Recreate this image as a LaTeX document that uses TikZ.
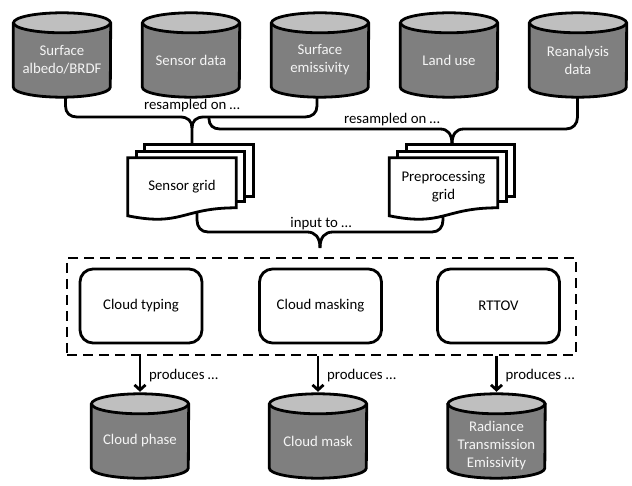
\documentclass[tikz,border=0pt]{standalone}
\usepackage{fontspec}
\setmainfont{Carlito}
\usetikzlibrary{arrows.meta,calc,backgrounds}
\definecolor{cylbody}{RGB}{127,127,127}
\definecolor{cyltop}{RGB}{191,191,191}
\definecolor{cyltext}{RGB}{245,245,245}
\tikzset{
  txt/.style={font=\fontsize{14.8}{18}\selectfont},
  cyl/.style={txt, minimum width=97pt, minimum height=74pt, inner sep=0pt, text=cyltext, align=center},
  cylside/.style={fill=cylbody, draw=black, line width=2.8pt, line join=round},
  cyllid/.style={fill=cyltop, draw=black, line width=2.8pt},
  doc/.style={txt, minimum width=108pt, minimum height=58pt, inner sep=0pt, align=center},
  pagesheet/.style={fill=white, draw=black, line width=2.8pt, line join=miter},
  lbl/.style={txt, inner sep=0pt},
  grp/.style={draw=black, line width=2.8pt, dash pattern=on 10pt off 6pt, minimum width=509pt, minimum height=97pt, inner sep=0pt},
  proc/.style={txt, draw=black, fill=white, line width=2.8pt, rounded corners=13pt, minimum width=122pt, minimum height=74pt, inner sep=0pt},
  conn/.style={draw=black, line width=2.8pt},
  arr/.style={draw=black, line width=2.8pt, -{Straight Barb[length=5pt,width=11pt]}}
}
\newcommand\cylpaint[2][0pt]{%
  \path[cylside] ([yshift=#1]#2.north west) -- ([yshift=10pt+#1]#2.south west) arc[start angle=180,end angle=360,x radius=48.5pt,y radius=10pt] -- ([yshift=#1]#2.north east) -- cycle;
  \path[cyllid] ([yshift=#1]#2.north) ellipse[x radius=48.5pt,y radius=10pt];}
\newcommand\docpaint[1]{%
  \path[pagesheet] ($(#1.north west)+(17,-13)$) rectangle ($(#1.north east)+(17,39)$);
  \path[pagesheet] ($(#1.north west)+(8.5,-6.5)$) rectangle ($(#1.north east)+(8.5,44)$);
  \path[pagesheet] (#1.north west) -- (#1.north east) -- ($(#1.north east)+(0,50)$) .. controls ($(#1.north)+(0,50)$) and ($(#1.north)+(0,69)$) .. ($(#1.north west)+(0,58)$) -- cycle;}
\begin{document}
\begin{tikzpicture}[x=1pt,y=-1pt]
\useasboundingbox (0,0) rectangle (632,486);
% sources
\node[cyl] (c1) at (62,60) {Surface\\albedo/BRDF};
\node[cyl] (c2) at (191,60) {Sensor data};
\node[cyl] (c3) at (320,60) {Surface\\emissivity};
\node[cyl] (c4) at (449,60) {Land use};
\node[cyl] (c5) at (578,60) {Reanalysis\\data};
% grids
\node[doc] (sg) at (182,187) {Sensor grid};
\node[doc] (pg) at (443.5,187) {Preprocessing\\grid};
% labels
\node[lbl] (l1) at (192,106) {resampled on …};
\node[lbl] (l2) at (392,120) {resampled on …};
\node[lbl] (l3) at (321,224) {input to …};
% processing
\node[grp] (grp) at (321.5,306.5) {};
\node[proc] (ct) at (141,306) {Cloud typing};
\node[proc] (cm) at (320.5,306) {Cloud masking};
\node[proc] (rt) at (498.5,306) {RTTOV};
% outputs
\node[cyl] (o1) at (140,441) {Cloud phase};
\node[cyl] (o2) at (318,441) {Cloud mask};
\node[cyl] (o3) at (496.5,446) {Radiance\\Transmission\\Emissivity};
% coordinates
\coordinate (sgtop) at ($(sg.north)+(10,-13)$);
\coordinate (pgtop) at ($(pg.north)+(8.5,-13)$);
\coordinate (br) at (209,117);
\coordinate (sgbot) at (197,205);
\coordinate (pgbot) at (443,205);
\coordinate (cusp) at (320,248);
% arrows
\draw[arr] (o1.north |- grp.south) -- ([yshift=12pt]o1.north);
\draw[arr] (o2.north |- grp.south) -- ([yshift=12pt]o2.north);
\draw[arr] (o3.north |- grp.south) -- ([yshift=17pt]o3.north);
\node[lbl, anchor=west] (p1) at ($(o1.north |- grp.south)+(9,19)$) {produces …};
\node[lbl, anchor=west] (p2) at ($(o2.north |- grp.south)+(9,19)$) {produces …};
\node[lbl, anchor=west] (p3) at ($(o3.north |- grp.south)+(9,19)$) {produces …};
\begin{scope}[on background layer]
  % brace 1
  \draw[conn] ([xshift=3.5pt]c1.south) -- (65.5,106) .. controls (65.5,113) and (70,117) .. (77,117) -- (180,117) .. controls (188,117) and (192,121) .. (192,128) -- (sgtop);
  \draw[conn] ([xshift=-3pt]c3.south) -- (317,106) .. controls (317,113) and (312,117) .. (305,117) -- (204,117) .. controls (196,117) and (192,121) .. (192,128);
  % brace 2
  \draw[conn] (br) -- (209,119) .. controls (209,125) and (213,129) .. (220,129) -- (440,129) .. controls (448,129) and (452,134) .. (pgtop);
  \draw[conn] ([xshift=-0.5pt]c5.south) -- (577.5,117) .. controls (577.5,124) and (573,129) .. (566,129) -- (464,129) .. controls (456,129) and (452,134) .. (pgtop);
  % brace 3
  \draw[conn] (sgbot) -- (197,220) .. controls (197,227) and (201,232) .. (208,232) -- (307,232) .. controls (315,232) and (320,237) .. (cusp);
  \draw[conn] (pgbot) -- (443,220) .. controls (443,227) and (439,232) .. (432,232) -- (333,232) .. controls (325,232) and (320,237) .. (cusp);
  % shapes
  \cylpaint{c1}\cylpaint{c2}\cylpaint{c3}\cylpaint{c4}\cylpaint{c5}
  \cylpaint{o1}\cylpaint{o2}\cylpaint[5pt]{o3}
  \docpaint{sg}\docpaint{pg}
\end{scope}
\end{tikzpicture}
\end{document}
